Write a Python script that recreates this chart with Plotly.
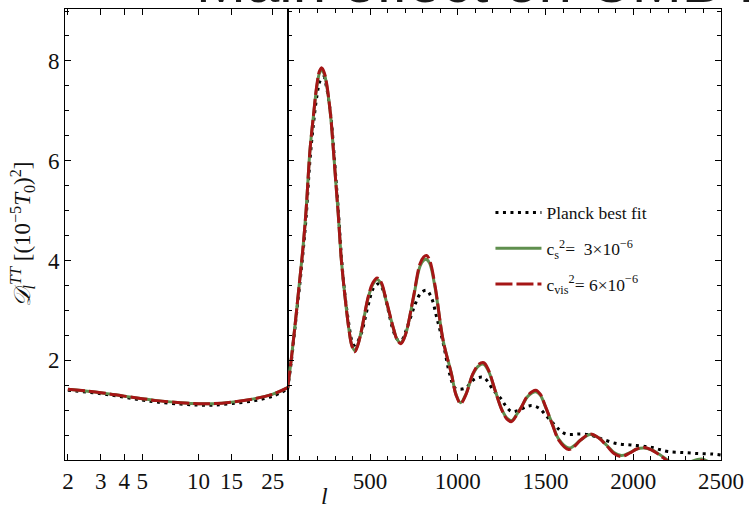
import plotly.graph_objects as go
from plotly.subplots import make_subplots

# ---------------- data ----------------
ell_low = [2, 3, 4, 5, 6, 8, 10, 12, 15, 20, 25, 30]
model_low = [1.42, 1.35, 1.28, 1.23, 1.19, 1.15, 1.13, 1.13, 1.16, 1.23, 1.32, 1.45]
planck_low = [1.40, 1.33, 1.26, 1.20, 1.16, 1.12, 1.10, 1.10, 1.13, 1.19, 1.28, 1.42]

ell_high = [30, 50, 75, 100, 116, 135, 157, 176, 197, 212, 225, 240, 253, 276, 291, 306, 317,
            332, 338, 357, 380, 395, 413, 430, 451, 489, 515, 540, 565, 587, 636, 655, 675,
            692, 709, 747, 784, 805, 822, 840, 870, 916, 963, 990, 1016, 1045, 1086, 1120,
            1148, 1175, 1212, 1251, 1280, 1306, 1335, 1364, 1400, 1444, 1470, 1500, 1540,
            1575, 1632, 1660, 1700, 1754, 1800, 1850, 1890, 1933, 1980, 2020, 2061, 2100,
            2150, 2187, 2230, 2300, 2390, 2450, 2500]
cvis_high = [1.45, 2.0, 2.8, 3.65, 4.2, 5.0, 6.2, 6.87, 7.53, 7.8, 7.86, 7.75, 7.53, 6.87, 6.2,
             5.5, 5.0, 4.2, 3.93, 3.27, 2.6, 2.3, 2.17, 2.3, 2.6, 3.27, 3.55, 3.65, 3.55, 3.27,
             2.6, 2.4, 2.33, 2.42, 2.6, 3.27, 3.93, 4.07, 4.1, 4.0, 3.5, 2.4, 1.73, 1.3, 1.13,
             1.3, 1.73, 1.92, 1.95, 1.8, 1.4, 1.0, 0.82, 0.77, 0.9, 1.07, 1.3, 1.4, 1.32, 1.07,
             0.7, 0.4, 0.21, 0.26, 0.4, 0.52, 0.45, 0.28, 0.13, 0.07, 0.14, 0.22, 0.25, 0.21,
             0.1, 0.0, -0.1, -0.1, -0.01, -0.1, -0.2]
cs_high = [1.45, 2.0, 2.8, 3.65, 4.2, 5.0, 6.2, 6.86, 7.5, 7.76, 7.82, 7.72, 7.5, 6.86, 6.2,
           5.5, 5.0, 4.2, 3.93, 3.27, 2.6, 2.31, 2.19, 2.31, 2.6, 3.25, 3.52, 3.62, 3.52, 3.25,
           2.6, 2.41, 2.35, 2.43, 2.6, 3.25, 3.88, 4.0, 4.02, 3.94, 3.46, 2.4, 1.74, 1.31, 1.15,
           1.31, 1.72, 1.89, 1.92, 1.78, 1.4, 1.01, 0.84, 0.79, 0.91, 1.07, 1.28, 1.37, 1.3, 1.06,
           0.71, 0.42, 0.24, 0.28, 0.4, 0.51, 0.45, 0.29, 0.15, 0.09, 0.15, 0.22, 0.24, 0.21,
           0.11, 0.02, -0.08, -0.06, 0.02, -0.08, -0.18]

ell_planck = [30, 50, 75, 100, 116, 135, 157, 176, 197, 215, 235, 250, 276, 291, 306, 317, 332,
              338, 357, 380, 395, 408, 425, 451, 489, 520, 549, 575, 600, 636, 660, 680, 700,
              730, 760, 790, 822, 850, 880, 916, 953, 982, 1010, 1048, 1080, 1114, 1150, 1202,
              1246, 1270, 1306, 1349, 1390, 1425, 1467, 1500, 1553, 1581, 1617, 1650, 1688,
              1744, 1790, 1830, 1905, 1990, 2075, 2110, 2150, 2197, 2282, 2366, 2451, 2500]
planck_high = [1.42, 1.95, 2.75, 3.55, 4.1, 4.85, 6.0, 6.7, 7.3, 7.6, 7.68, 7.5, 6.9, 6.3, 5.6,
               5.1, 4.3, 4.0, 3.3, 2.7, 2.4, 2.3, 2.35, 2.55, 3.1, 3.45, 3.53, 3.4, 3.05, 2.55,
               2.4, 2.4, 2.55, 2.85, 3.15, 3.35, 3.4, 3.25, 2.85, 2.35, 1.73, 1.45, 1.42, 1.45,
               1.58, 1.65, 1.65, 1.4, 1.23, 1.1, 0.97, 1.0, 1.07, 1.09, 1.03, 0.9, 0.7, 0.6,
               0.52, 0.51, 0.52, 0.51, 0.46, 0.41, 0.33, 0.30, 0.27, 0.25, 0.21, 0.17, 0.15,
               0.13, 0.12, 0.10]

names = ["Planck best fit",
         "c<sub>s</sub><sup>2</sup>=  3×10<sup>−6</sup>",
         "c<sub>vis</sub><sup>2</sup>= 6×10<sup>−6</sup>"]
y_ticks = [2, 4, 6, 8]
x_ticks_low = [2, 3, 4, 5, 10, 15, 25]
x_ticks_high = [500, 1000, 1500, 2000, 2500]

# ---------------- styles ----------------
SERIF = "Liberation Serif"
GREEN = "#5f8f4e"
RED = "#a51616"
dot_line = dict(color="black", width=3, dash="3px,4.5px", shape="spline")
green_line = dict(color=GREEN, width=3, shape="spline")
red_line = dict(color=RED, width=3, dash="17px,4px", shape="spline")

fig = make_subplots(rows=1, cols=2, shared_yaxes=False, horizontal_spacing=0,
                    column_widths=[0.3394, 0.6606])

# left panel
fig.add_trace(go.Scatter(x=ell_low, y=planck_low, mode="lines", line=dot_line,
                         showlegend=False, legendgroup="p"), 1, 1)
fig.add_trace(go.Scatter(x=ell_low, y=model_low, mode="lines", line=green_line,
                         showlegend=False, legendgroup="g"), 1, 1)
fig.add_trace(go.Scatter(x=ell_low, y=model_low, mode="lines", line=red_line,
                         showlegend=False, legendgroup="r"), 1, 1)
# right panel
fig.add_trace(go.Scatter(x=ell_planck, y=planck_high, mode="lines", line=dot_line,
                         name=names[0], legendgroup="p"), 1, 2)
fig.add_trace(go.Scatter(x=ell_high, y=cs_high, mode="lines", line=green_line,
                         name=names[1], legendgroup="g"), 1, 2)
fig.add_trace(go.Scatter(x=ell_high, y=cvis_high, mode="lines", line=red_line,
                         name=names[2], legendgroup="r"), 1, 2)

axis_common = dict(showgrid=False, zeroline=False, showline=True, linecolor="black",
                   linewidth=1, ticks="inside", tickcolor="black", ticklen=6,
                   tickfont=dict(family=SERIF, size=23, color="#111"))
YR = [0, 9.04]

fig.update_xaxes(**axis_common, type="log", range=[0.2856, 1.4771],
                 tickvals=x_ticks_low, ticktext=[str(v) for v in x_ticks_low],
                 mirror="ticks", row=1, col=1)
fig.update_xaxes(**axis_common, range=[30, 2500], tickvals=x_ticks_high,
                 mirror="ticks",
                 minor=dict(dtick=100, tick0=0, ticks="inside", ticklen=4, tickcolor="black"),
                 row=1, col=2)
fig.update_yaxes(**axis_common, range=YR, tickvals=y_ticks, mirror=True,
                 minor=dict(dtick=0.5, tick0=0, ticks="inside", ticklen=4, tickcolor="black"),
                 title=dict(text="<i>𝒟</i><sub><i>l</i></sub><sup><i>TT</i></sup> [(10<sup>−5</sup><i>T</i><sub>0</sub>)<sup>2</sup>]",
                            font=dict(family=SERIF, size=23, color="#111"), standoff=10),
                 row=1, col=1)
fig.update_yaxes(**axis_common, range=YR, tickvals=y_ticks, showticklabels=False,
                 mirror="ticks",
                 minor=dict(dtick=0.5, tick0=0, ticks="inside", ticklen=4, tickcolor="black"),
                 row=1, col=2)

fig.add_annotation(text="<i>l</i>", xref="paper", yref="paper", x=(327 - 65) / 663,
                   y=(460 - 496) / 452, yanchor="middle", showarrow=False,
                   font=dict(family=SERIF, size=24, color="#111"))
# slide title partly cut off at the top of the picture
fig.add_annotation(text="Main effect on CMB K", xref="paper", yref="paper",
                   x=(195 - 65) / 663, xanchor="left", y=1.0, yanchor="bottom", yshift=-8,
                   showarrow=False, font=dict(family="Liberation Sans", size=60, color="#1a1a1a"))

fig.update_layout(
    width=752, height=512, margin=dict(l=65, r=24, t=8, b=52),
    paper_bgcolor="white", plot_bgcolor="white",
    legend=dict(x=(495 - 65) / 663, y=(460 - 194) / 452, xanchor="left", yanchor="top",
                bgcolor="rgba(0,0,0,0)", font=dict(family=SERIF, size=17.5, color="#111"),
                itemwidth=46, tracegroupgap=10),
)

fig.write_html("out.html")
